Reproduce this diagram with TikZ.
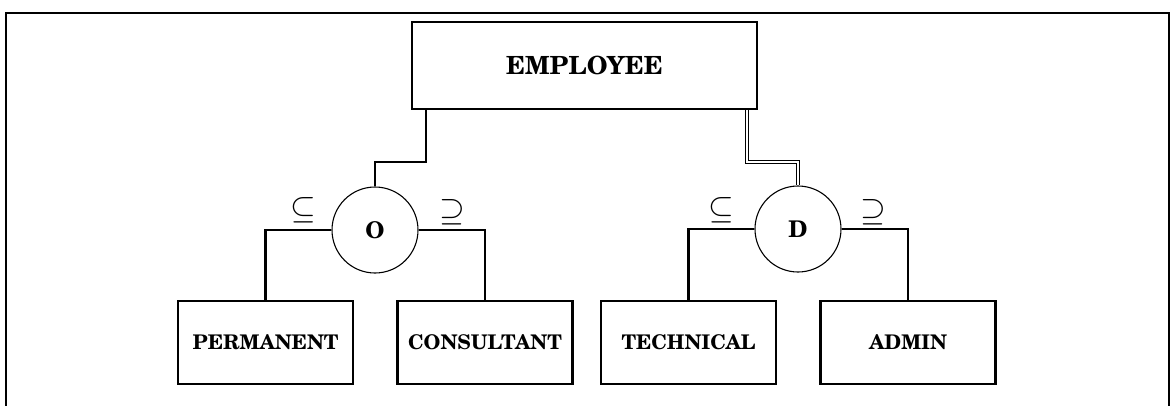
\documentclass[tikz,border=0pt]{standalone}
\usepackage{fontspec}
\setmainfont{texgyreschola}[Extension=.otf, UprightFont=*-regular, BoldFont=*-bold]
\begin{document}
\begin{tikzpicture}[x=1pt,y=-1pt,
  ent/.style={draw, line width=2.3pt, rectangle, inner sep=0pt, font=\fontsize{20.2}{22}\selectfont\bfseries, minimum width=175pt, minimum height=83pt},
  spec/.style={draw, circle, line width=1.1pt, minimum size=86pt, inner sep=0pt, font=\fontsize{23}{23}\selectfont\bfseries},
  conn/.style={line width=2.3pt},
  dconn/.style={double, double distance=2pt, line width=1.2pt},
  sym/.style={scale=3.3, inner sep=0pt},
  frame/.style={line width=2.8pt}]
\useasboundingbox (0,0) rectangle (1171,405);
\draw[frame] (6,406) -- (6,13) -- (1169,13) -- (1169,406);
\node[ent, minimum width=345pt, minimum height=87pt, font=\fontsize{25}{26}\selectfont\bfseries] (emp) at (584.5,65.5) {EMPLOYEE};
\node[spec] (o) at (375,230) {O};
\node[spec] (d) at (798,229) {D};
\node[ent] (perm) at (265.5,342.5) {PERMANENT};
\node[ent] (cons) at (485,342.5) {CONSULTANT};
\node[ent] (tech) at (688.5,342.5) {TECHNICAL};
\node[ent] (admin) at (908,342.5) {ADMIN};
\draw[conn] ([xshift=15pt]emp.south west) -- ++(0,52) -| (o.north);
\draw[dconn] ([xshift=-11pt]emp.south east) -- ++(0,52) -| (d.north);
\draw[conn] (o.west) -| (perm.north);
\draw[conn] (o.east) -| (cons.north);
\draw[conn] (d.west) -| (tech.north);
\draw[conn] (d.east) -| (admin.north);
\node[sym] (s1) at (303,210) {$\subseteq$};
\node[sym] (s2) at (452,212) {$\supseteq$};
\node[sym] (s3) at (721,210) {$\subseteq$};
\node[sym] (s4) at (873,212) {$\supseteq$};
\end{tikzpicture}
\end{document}
